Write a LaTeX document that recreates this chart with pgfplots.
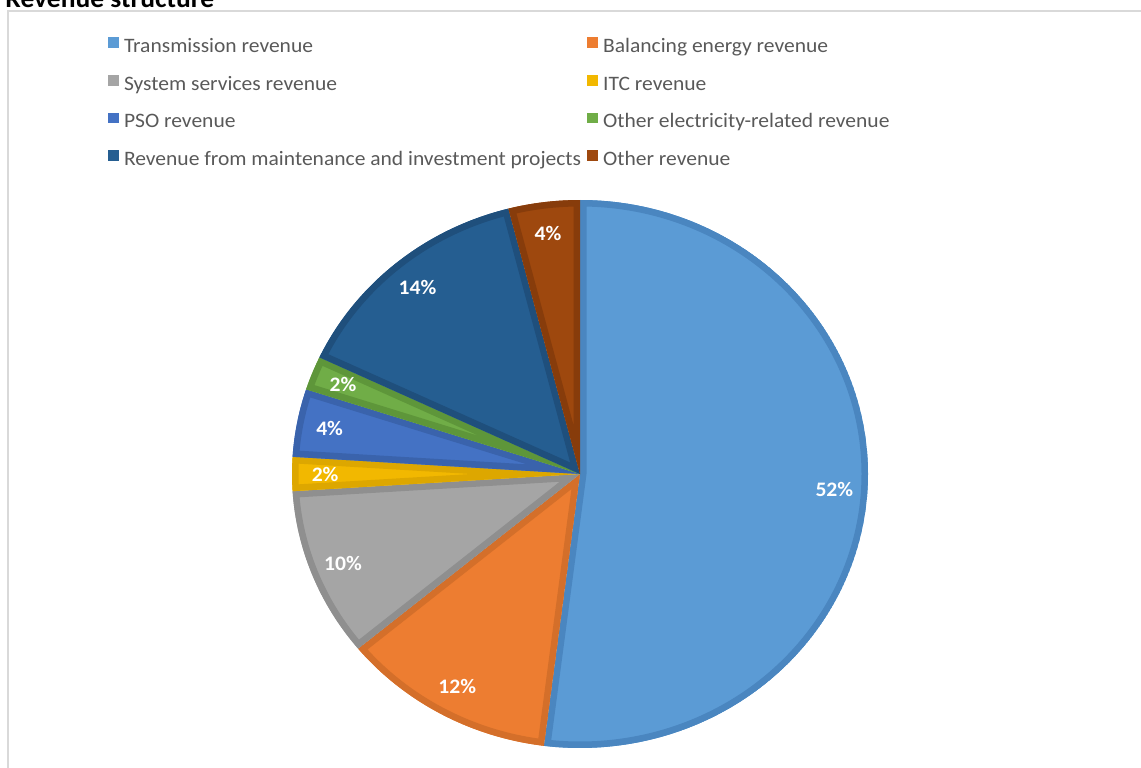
\documentclass[border=0pt]{standalone}
\usepackage{pgfplots}
\pgfplotsset{compat=1.18}
\usepackage{pgfplotstable}
\usepackage{fontspec}
\setmainfont{Carlito}[FakeStretch=1.05]

\definecolor{slice0}{HTML}{5B9BD5}\definecolor{sliceb0}{HTML}{4A86C0}
\definecolor{slice1}{HTML}{ED7D31}\definecolor{sliceb1}{HTML}{D46F2A}
\definecolor{slice2}{HTML}{A5A5A5}\definecolor{sliceb2}{HTML}{8F8F8F}
\definecolor{slice3}{HTML}{F2B800}\definecolor{sliceb3}{HTML}{DDA700}
\definecolor{slice4}{HTML}{4472C4}\definecolor{sliceb4}{HTML}{3A63AC}
\definecolor{slice5}{HTML}{70AD47}\definecolor{sliceb5}{HTML}{5E963A}
\definecolor{slice6}{HTML}{255E91}\definecolor{sliceb6}{HTML}{1F4F7C}
\definecolor{slice7}{HTML}{9E480E}\definecolor{sliceb7}{HTML}{873C0B}
\definecolor{legendgray}{HTML}{595959}
\definecolor{framegray}{HTML}{D9D9D9}

% shares in percent, clockwise from 12 o'clock
\pgfplotstableread{
share
52
12
10
2
4
2
14
4
}\revenue

\pgfplotsset{
  sqleg/.style={legend image code/.code={\fill[##1, draw=none] (0pt,-0.2pt) rectangle (5.4pt,5.2pt);}},
}

% one wedge: fill, border, start, end, label x, label y, value
\newcommand{\slice}[7]{%
  \begin{scope}
    \clip (axis cs:580,293) -- ++(#3:144pt and 137pt)
      arc[start angle=#3, end angle=#4, x radius=144pt, y radius=137pt] -- cycle;
    \fill[#1] (axis cs:580,293) -- ++(#3:144pt and 137pt)
      arc[start angle=#3, end angle=#4, x radius=144pt, y radius=137pt] -- cycle;
    \draw[#2, line width=6.5pt, line join=round] (axis cs:580,293) -- ++(#3:144pt and 137pt)
      arc[start angle=#3, end angle=#4, x radius=144pt, y radius=137pt] -- cycle;
  \end{scope}
  \node[text=white, font=\bfseries\fontsize{10.3}{12}\selectfont, inner sep=0pt] at (axis cs:#5,#6) {#7\%};
}

\begin{document}
\begin{tikzpicture}
\useasboundingbox (0pt,0pt) rectangle (570.5pt,383.5pt);

% start/end angles of the wedges
\def\acc{0}
\pgfplotsforeachungrouped \i in {0,...,7}{%
  \pgfplotstablegetelem{\i}{share}\of\revenue
  \let\val\pgfplotsretval
  \pgfmathsetmacro{\sa}{90-3.6*\acc}
  \pgfmathsetmacro{\acc}{\acc+\val}
  \pgfmathsetmacro{\ea}{90-3.6*\acc}
  \pgfmathsetmacro{\ma}{(\sa+\ea)/2}
  \pgfmathsetmacro{\lx}{580+0.885*288*cos(\ma)}
  \pgfmathsetmacro{\ly}{293+0.885*274*sin(\ma)}
  \expandafter\xdef\csname sa\i\endcsname{\sa}%
  \expandafter\xdef\csname ea\i\endcsname{\ea}%
  \expandafter\xdef\csname lx\i\endcsname{\lx}%
  \expandafter\xdef\csname ly\i\endcsname{\ly}%
  \expandafter\xdef\csname val\i\endcsname{\val}%
}

\draw[framegray, line width=1pt] (4pt,-5pt) |- (580pt,377.85pt);
\node[anchor=base west, inner sep=0pt, font=\bfseries\fontsize{13.1}{16}\selectfont] at (2.5pt,379.5pt) {Revenue structure};

\begin{axis}[
  at={(0pt,0pt)}, anchor=south west,
  scale only axis, width=570.5pt, height=383.5pt,
  xmin=0, xmax=1141, ymin=0, ymax=767,
  hide axis, clip=false,
  legend columns=2,
  legend cell align=left,
  legend style={
    at={(axis cs:108,730)}, anchor=north west,
    draw=none, fill=none, inner sep=0pt, outer sep=0pt,
    font=\fontsize{10.25}{12}\selectfont,
    row sep=9.2pt,
    nodes={inner sep=0pt, text=legendgray, text height=7pt, text depth=2pt},
    /tikz/every odd column/.append style={column sep=2.6pt},
    /tikz/every even column/.append style={column sep=3pt},
  },
]
\pgfplotsinvokeforeach{0,...,7}{%
  \edef\tmp{\noexpand\slice{slice#1}{sliceb#1}{\csname sa#1\endcsname}{\csname ea#1\endcsname}%
    {\csname lx#1\endcsname}{\csname ly#1\endcsname}{\csname val#1\endcsname}}\tmp
}
\addlegendimage{sqleg, fill=slice0}\addlegendentry{Transmission revenue}
\addlegendimage{sqleg, fill=slice1}\addlegendentry{Balancing energy revenue}
\addlegendimage{sqleg, fill=slice2}\addlegendentry{System services revenue}
\addlegendimage{sqleg, fill=slice3}\addlegendentry{ITC revenue}
\addlegendimage{sqleg, fill=slice4}\addlegendentry{PSO revenue}
\addlegendimage{sqleg, fill=slice5}\addlegendentry{Other electricity-related revenue}
\addlegendimage{sqleg, fill=slice6}\addlegendentry{Revenue from maintenance and investment projects}
\addlegendimage{sqleg, fill=slice7}\addlegendentry{Other revenue}
\end{axis}
\end{tikzpicture}
\end{document}
